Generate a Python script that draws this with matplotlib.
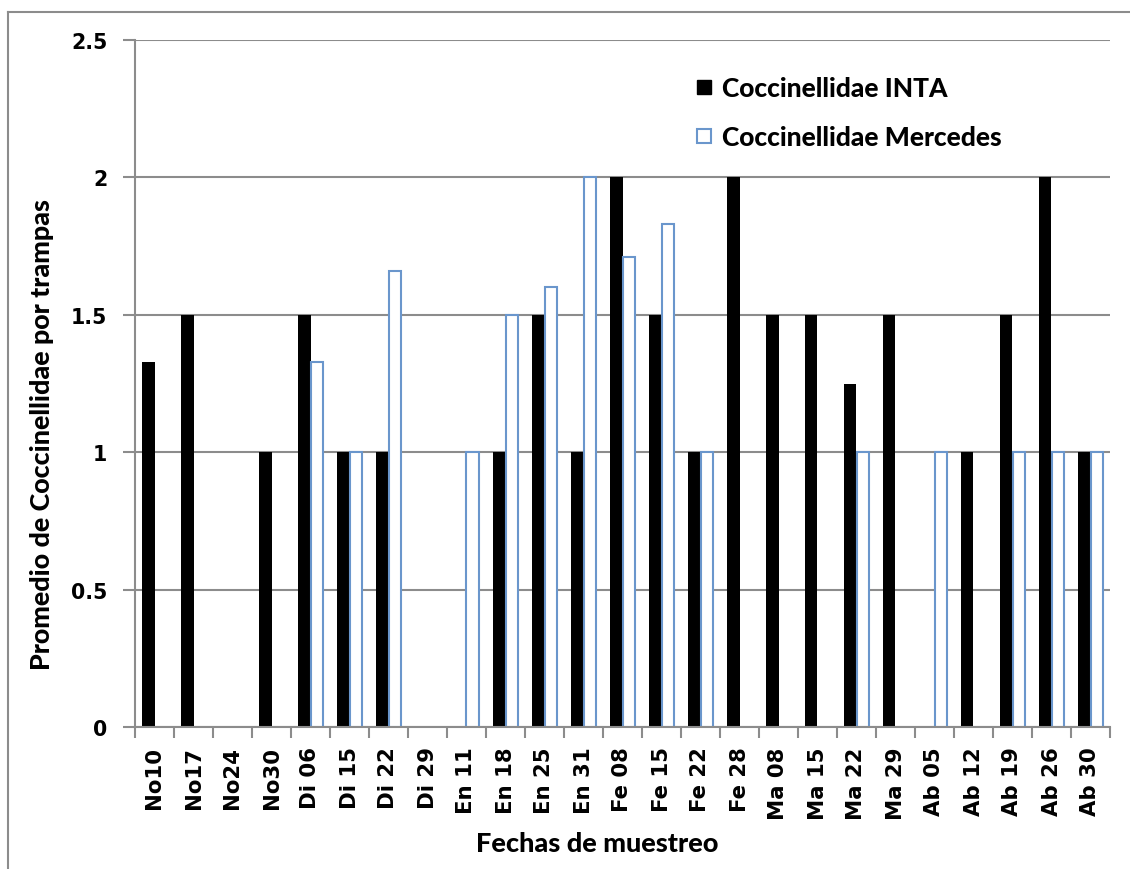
import matplotlib
matplotlib.use("Agg")
import matplotlib.pyplot as plt
from matplotlib.lines import Line2D
from matplotlib.ticker import FixedLocator
import numpy as np

fechas = ["No10", "No17", "No24", "No30", "Di 06", "Di 15", "Di 22", "Di 29",
          "En 11", "En 18", "En 25", "En 31", "Fe 08", "Fe 15", "Fe 22", "Fe 28",
          "Ma 08", "Ma 15", "Ma 22", "Ma 29", "Ab 05", "Ab 12", "Ab 19", "Ab 26", "Ab 30"]
inta = [1.33, 1.5, 0, 1, 1.5, 1, 1, 0, 0, 1, 1.5, 1, 2, 1.5, 1, 2,
        1.5, 1.5, 1.25, 1.5, 0, 1, 1.5, 2, 1]
mercedes = [0, 0, 0, 0, 1.33, 1, 1.66, 0, 1, 1.5, 1.6, 2, 1.71, 1.83, 1, 0,
            0, 0, 1, 0, 1, 0, 1, 1, 1]
y_ticks = [0, 0.5, 1, 1.5, 2, 2.5]
y_tick_labels = ["0", "0.5", "1", "1.5", "2", "2.5"]

W, H = 1130, 870
fig = plt.figure(figsize=(W / 100, H / 100), dpi=100)
fig.patch.set_facecolor("white")

# outer chart frame
grey = "#8c8c8c"
fig.add_artist(Line2D([8 / W, 8 / W], [0, 1 - 13 / H], transform=fig.transFigure,
                      color=grey, lw=1.5))
fig.add_artist(Line2D([8 / W, 1], [1 - 13 / H, 1 - 13 / H], transform=fig.transFigure,
                      color=grey, lw=1.5))

left, right, top, bottom = 135, 1110, 41, 728
ax = fig.add_axes([left / W, 1 - bottom / H, (right - left) / W, (bottom - top) / H])

x = np.arange(len(fechas))
bw = 0.31
blue = "#6a96cc"
ax.bar(x - bw / 2, inta, width=bw, color="black", edgecolor="none", zorder=3)
merc_edges = [blue if v > 0 else "none" for v in mercedes]
ax.bar(x + bw / 2, mercedes, width=bw, color="white", edgecolor=merc_edges,
       linewidth=1.5, zorder=3)

ax.set_xlim(-0.5, len(fechas) - 0.5)
ax.set_ylim(0, 2.5)
ax.set_yticks(y_ticks)
ax.set_yticklabels(y_tick_labels, fontsize=14.8, fontweight="bold", family="DejaVu Sans")
ax.set_xticks(x)
ax.set_xticklabels(fechas, rotation=90, fontsize=15.3, fontweight="bold",
                   family="DejaVu Sans")
ax.xaxis.set_minor_locator(FixedLocator(np.arange(-0.5, len(fechas), 1.0)))
ax.tick_params(axis="x", which="major", length=0, pad=14)
ax.tick_params(axis="x", which="minor", length=8, width=1.5, color=grey, direction="out")
ax.tick_params(axis="y", length=9, width=1.5, color=grey, direction="out", pad=11)

ax.grid(axis="y", color=grey, lw=1.5, zorder=0)
ax.set_axisbelow(True)
for s in ("top", "right"):
    ax.spines[s].set_visible(False)
for s in ("left", "bottom"):
    ax.spines[s].set_color(grey)
    ax.spines[s].set_linewidth(1.5)
    ax.spines[s].set_zorder(4)

title_font = {"family": "Lato", "weight": "black"}
fig.text(42 / W, 1 - 435 / H, "Promedio de Coccinellidae por trampas", rotation=90,
         ha="center", va="center", fontsize=19.4, **title_font)
fig.text(597 / W, 1 - 844 / H, "Fechas de muestreo", ha="center", va="center",
         fontsize=19.5, **title_font)

handles = [Line2D([], [], ls="none", marker="s", markersize=9.5,
                  markerfacecolor="black", markeredgecolor="black"),
           Line2D([], [], ls="none", marker="s", markersize=9.5,
                  markerfacecolor="white", markeredgecolor=blue, markeredgewidth=1.5)]
fig.legend(handles, ["Coccinellidae INTA", "Coccinellidae Mercedes"],
           loc="upper left", bbox_to_anchor=(697 / W, 1 - 77 / H), frameon=False,
           prop={"family": "Lato", "weight": "black", "size": 19},
           handlelength=0.55, handletextpad=0.4, labelspacing=0.95,
           borderaxespad=0, borderpad=0)

fig.savefig("out.png", dpi=100, facecolor="white")
